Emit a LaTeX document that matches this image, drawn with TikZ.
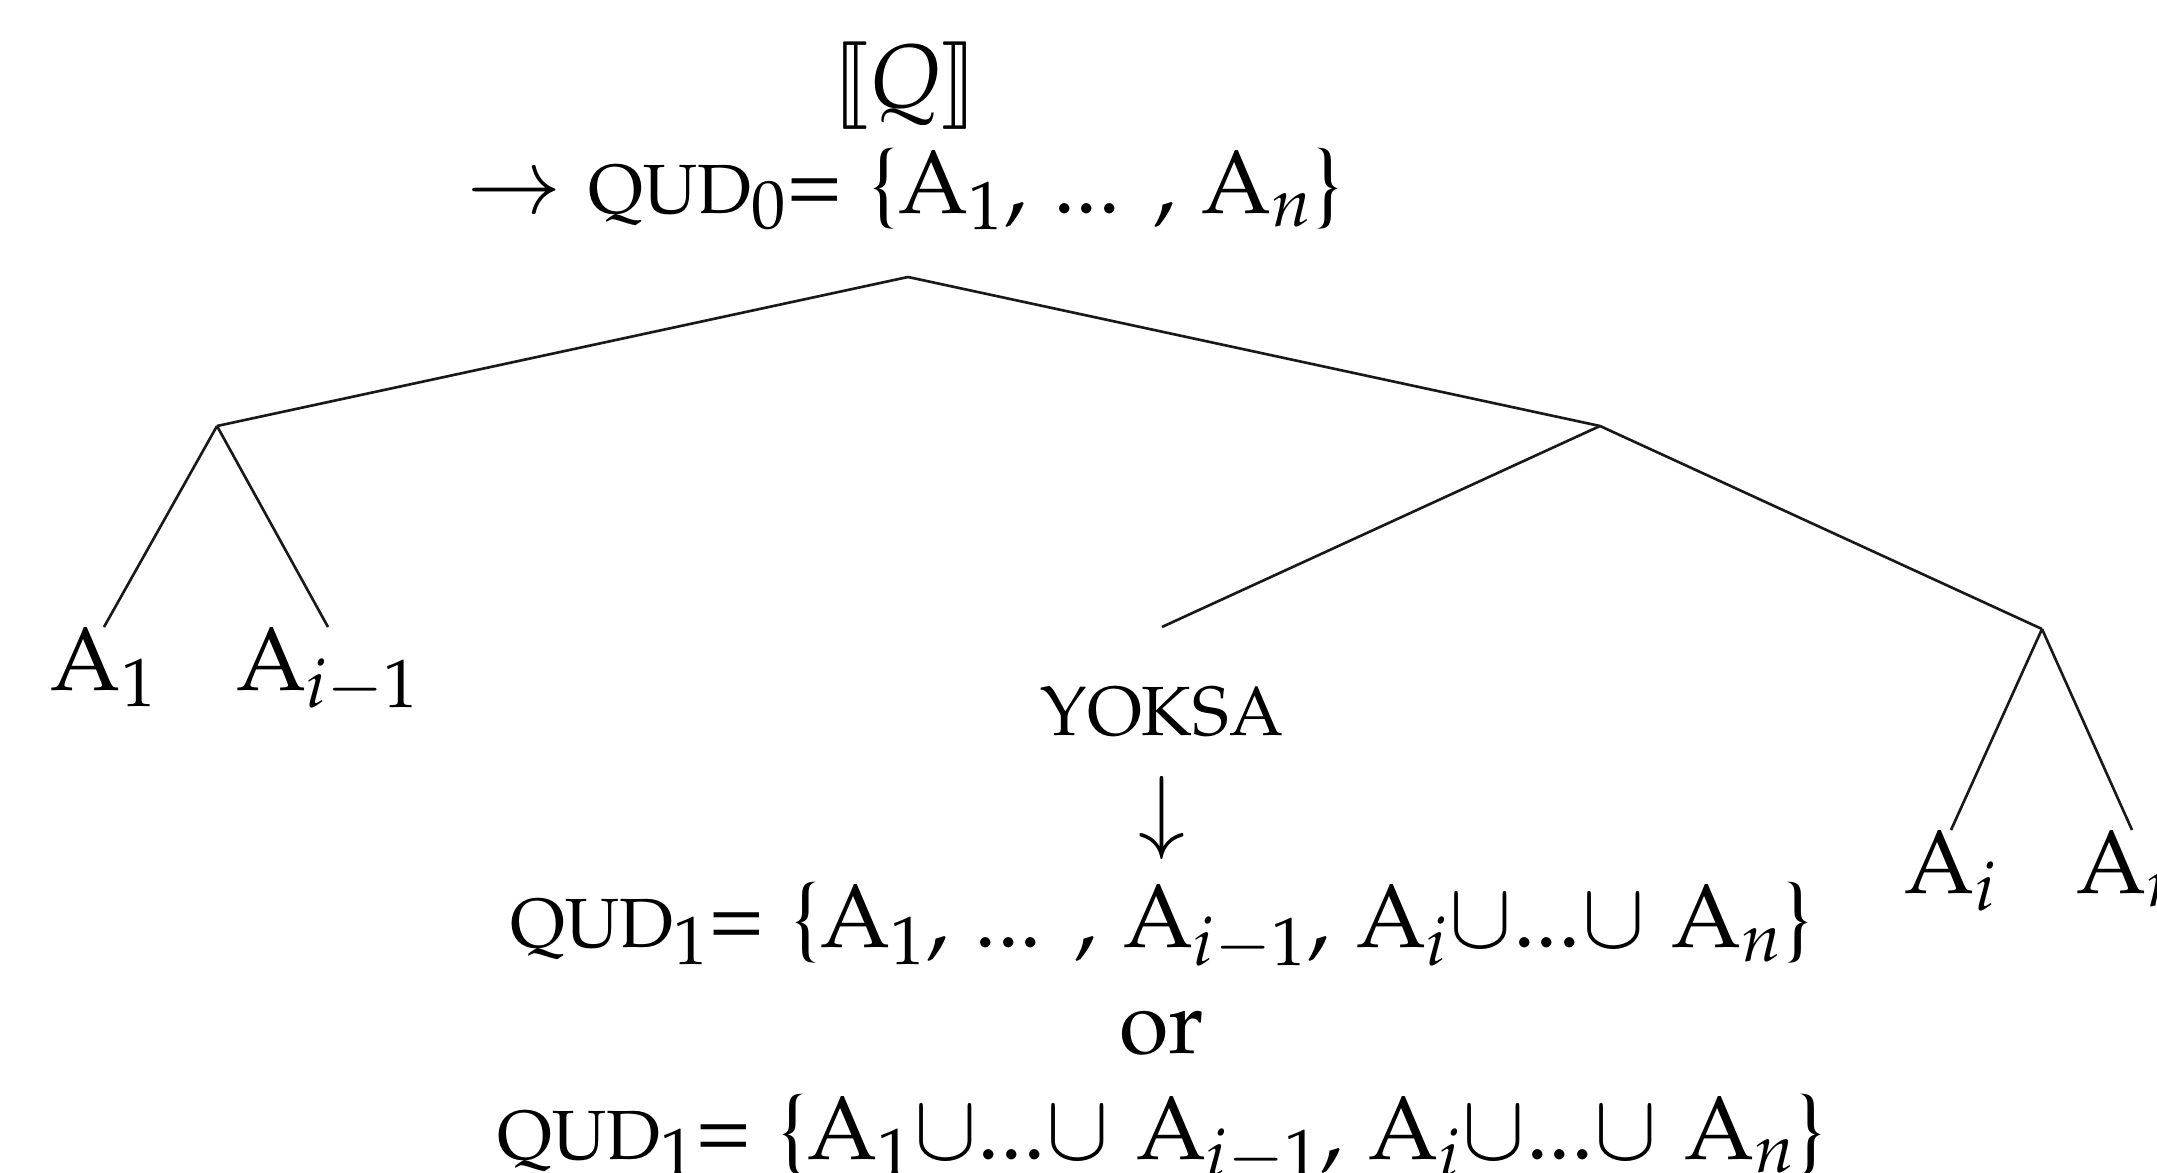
\documentclass[tikz,border=0pt]{standalone}
\usepackage[T1]{fontenc}
\usepackage[sc]{mathpazo}
\usepackage{stmaryrd}
\usetikzlibrary{positioning}
\newcommand{\smcaps}[1]{{\fontsize{19.8pt}{30.1pt}\selectfont #1}}

\begin{document}
\begin{tikzpicture}[x=0.01cm, y=-0.01cm,
    lbl/.style={font=\fontsize{25.6pt}{30.1pt}\selectfont, inner sep=0pt, align=center},
    leaf/.style={lbl, anchor=north},
    branch/.style={line width=0.75pt, black!90}
  ]
    \useasboundingbox (0,0) rectangle (2157,1173);

    % Top: the question and its QUD
    \node[leaf] (q) at (905,41)
      {$\llbracket Q\rrbracket$\\
       $\rightarrow$ \smcaps{QUD}$_0$= \{A$_1$, ... , A$_n$\}};

    % Inner points of the tree
    \coordinate (root) at (908,277);
    \coordinate (l) at (217,426);
    \coordinate (r) at (1600,426);
    \coordinate (rr) at (2042,629);

    % Leaves
    \node[leaf] (a1) at (104,627) {A$_1$};
    \node[leaf] (ai1) at (328,627) {A$_{i-1}$};
    \node[leaf] (ai) at (1951,830) {A$_i$};
    \node[leaf] (an) at (2132,830) {A$_n$};

    % YOKSA and the new QUD
    \node[leaf] (yoksa) at (1162,687)
      {\smcaps{YOKSA}\\
       $\downarrow$\\
       \smcaps{QUD}$_1$= \{A$_1$, ... , A$_{i-1}$, A$_i$$\cup$...$\cup$ A$_n$\}\\
       or\\
       \smcaps{QUD}$_1$= \{A$_1$$\cup$...$\cup$ A$_{i-1}$, A$_i$$\cup$...$\cup$ A$_n$\}};

    % Branches
    \draw[branch] (root) -- (l);
    \draw[branch] (root) -- (r);
    \draw[branch] (l) -- (a1.north);
    \draw[branch] (l) -- (ai1.north);
    \draw[branch] (r) -- ([yshift=0.6cm]yoksa.north);
    \draw[branch] (r) -- (rr);
    \draw[branch] (rr) -- (ai.north);
    \draw[branch] (rr) -- (an.north);
  \end{tikzpicture}
\end{document}
